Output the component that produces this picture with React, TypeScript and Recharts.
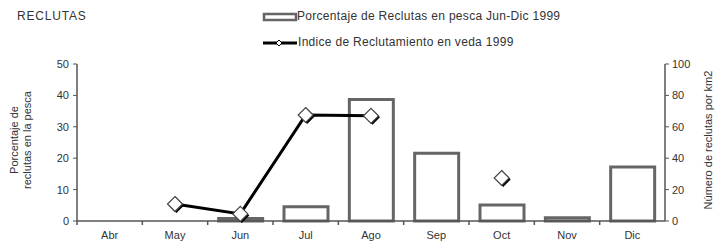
import React from "react";
import {
  ComposedChart,
  Bar,
  Line,
  XAxis,
  YAxis,
  Customized,
} from "recharts";

const months = ["Abr", "May", "Jun", "Jul", "Ago", "Sep", "Oct", "Nov", "Dic"];
// porcentaje de reclutas en pesca (eje izquierdo)
const porcentaje = [null, null, 0.8, 4.5, 38.7, 21.6, 5.1, 1, 17.2];
// indice de reclutamiento en veda (eje derecho)
const indice = [null, 10.8, 4.5, 67.5, 67, null, 27.4, null, null];
const leftTicks = [0, 10, 20, 30, 40, 50];
const rightTicks = [0, 20, 40, 60, 80, 100];

const data = months.map((m, i) => ({
  name: m,
  porcentaje: porcentaje[i],
  indice: indice[i],
}));

const FONT = "'Liberation Sans', Arial, sans-serif";
const TXT = "#333";
const AXIS = "#555";

function Diamond({ cx, cy }: any) {
  if (cx == null || cy == null) return null;
  const r = 7.5;
  const pts = (dx: number, dy: number) =>
    `${cx + dx},${cy - r + dy} ${cx + r + dx},${cy + dy} ${cx + dx},${cy + r + dy} ${cx - r + dx},${cy + dy}`;
  return (
    <g>
      <polygon points={pts(1.5, 1.5)} fill="#000" />
      <polygon points={pts(0, 0)} fill="#fff" stroke="#444" strokeWidth={1.2} />
    </g>
  );
}

function MonthTick({ x, y, payload }: any) {
  const half = 588 / 9 / 2;
  return (
    <g>
      <line x1={x - half} y1={y} x2={x - half} y2={y + 4} stroke={AXIS} strokeWidth={1.5} />
      <text x={x} y={y + 18} textAnchor="middle" fontSize={11} fill={TXT} fontFamily={FONT}>
        {payload.value}
      </text>
    </g>
  );
}

function AxisTitles() {
  return (
    <g fontFamily={FONT} fontSize={11} fill={TXT}>
      <text transform="translate(18,140) rotate(-90)" textAnchor="middle">
        Porcentaje de
      </text>
      <text transform="translate(31,140) rotate(-90)" textAnchor="middle">
        reclutas en la pesca
      </text>
      <text transform="translate(712,140) rotate(-90)" textAnchor="middle">
        Número de reclutas por km2
      </text>
    </g>
  );
}

function LegendBox() {
  const t = {
    fontFamily: FONT,
    fontSize: 12,
    letterSpacing: 0.3,
    color: TXT,
    whiteSpace: "nowrap" as const,
  };
  return (
    <div style={{ position: "absolute", left: 262, top: 7, width: 340, height: 50 }}>
      <svg width={36} height={50} style={{ position: "absolute", left: 0, top: 0 }}>
        <rect x={2} y={7} width={32} height={6} fill="#fff" stroke="#666" strokeWidth={2.5} />
        <line x1={1} y1={36} x2={35} y2={36} stroke="#000" strokeWidth={3} />
        <polygon points="17,33 20,36 17,39 14,36" fill="#fff" stroke="#000" strokeWidth={1} />
      </svg>
      <div style={{ ...t, position: "absolute", left: 35, top: 2 }}>
        Porcentaje de Reclutas en pesca Jun-Dic 1999
      </div>
      <div style={{ ...t, position: "absolute", left: 36, top: 28 }}>
        Indice de Reclutamiento en veda 1999
      </div>
    </div>
  );
}

export default function App() {
  return (
    <div style={{ position: "absolute", left: 0, top: 0, width: 716, height: 243, background: "#fff" }}>
      <div
        style={{
          position: "absolute",
          left: 17,
          top: 9,
          fontFamily: FONT,
          fontSize: 12,
          letterSpacing: 0.8,
          color: TXT,
        }}
      >
        RECLUTAS
      </div>
      <LegendBox />
      <ComposedChart
        width={716}
        height={243}
        data={data}
        margin={{ top: 64, right: 0, bottom: 2, left: 0 }}
      >
        <XAxis
          dataKey="name"
          height={20}
          axisLine={{ stroke: AXIS, strokeWidth: 1.5 }}
          tickLine={false}
          tickSize={0}
          tickMargin={0}
          tick={<MonthTick />}
          interval={0}
        />
        <YAxis
          yAxisId="left"
          width={77}
          domain={[0, 50]}
          ticks={leftTicks}
          axisLine={{ stroke: AXIS, strokeWidth: 1.5 }}
          tickLine={{ stroke: AXIS }}
          tickSize={4}
          tickMargin={4}
          tick={{ fontSize: 11, fill: TXT, fontFamily: FONT }}
        />
        <YAxis
          yAxisId="right"
          orientation="right"
          width={51}
          domain={[0, 100]}
          ticks={rightTicks}
          axisLine={{ stroke: AXIS, strokeWidth: 1.5 }}
          tickLine={{ stroke: AXIS }}
          tickSize={4}
          tickMargin={3}
          tick={{ fontSize: 11, fill: TXT, fontFamily: FONT }}
        />
        <Bar
          yAxisId="left"
          dataKey="porcentaje"
          barSize={44}
          fill="#fff"
          stroke="#666"
          strokeWidth={3}
          isAnimationActive={false}
        />
        <Line
          yAxisId="right"
          dataKey="indice"
          stroke="#000"
          strokeWidth={3}
          dot={<Diamond />}
          activeDot={false}
          isAnimationActive={false}
        />
        <Customized component={AxisTitles} />
      </ComposedChart>
    </div>
  );
}
